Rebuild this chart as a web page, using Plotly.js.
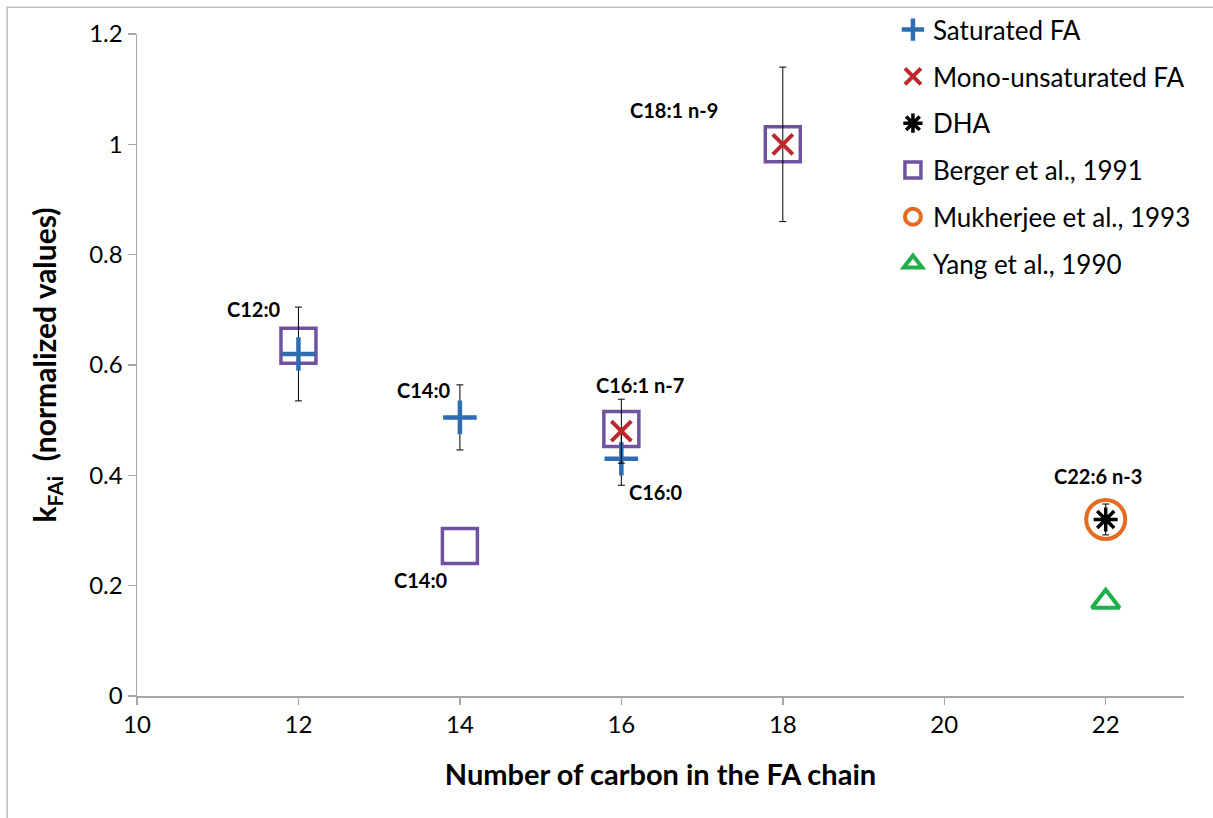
<!DOCTYPE html>
<html>
<head>
<meta charset="utf-8">
<script src="https://cdn.plot.ly/plotly-3.0.1.min.js"></script>
<style>html,body{margin:0;padding:0;background:#fff;}#chart{width:1213px;height:818px;}</style>
</head>
<body>
<div id="chart"></div>
<script>
// ---- data ----
const satX = [12, 14, 16];
const satY = [0.62, 0.505, 0.43];
const satErr = [0.085, 0.059, 0.048];
const satLabels = ["C12:0", "C14:0", "C16:0"];

const monoX = [16, 18];
const monoY = [0.48, 1.0];
const monoErr = [0.058, 0.14];
const monoLabels = ["C16:1 n-7", "C18:1 n-9"];

const dhaX = [22];
const dhaY = [0.32];
const dhaErr = [0.028];
const dhaLabels = ["C22:6 n-3"];

const bergerX = [12, 14, 16, 18];
const bergerY = [0.635, 0.272, 0.484, 1.0];

const mukX = [22];
const mukY = [0.32];

const yangX = [22];
const yangY = [0.171];

const xTicks = [10, 12, 14, 16, 18, 20, 22];
const yTicks = [0, 0.2, 0.4, 0.6, 0.8, 1, 1.2];
const yTickText = ["0", "0.2", "0.4", "0.6", "0.8", "1", "1.2"];

const FONT = "Lato, 'Open Sans', sans-serif";
const errStyle = {type: 'data', visible: true, color: '#000', thickness: 1, width: 3.5};

const traces = [
  {x: bergerX, y: bergerY, mode: 'markers', name: 'Berger et al., 1991', legendrank: 4, legendgroup: 'd',
   marker: {symbol: 'square-open', size: 35, color: '#6f53a0', line: {width: 3.5, color: '#6f53a0'}}},
  {x: mukX, y: mukY, mode: 'markers', name: 'Mukherjee et al., 1993', legendrank: 5, legendgroup: 'e',
   marker: {symbol: 'circle-open', size: 39, color: '#e46c22', line: {width: 4, color: '#e46c22'}}},
  {x: yangX, y: yangY, mode: 'markers', name: 'Yang et al., 1990', legendrank: 6, legendgroup: 'f',
   marker: {symbol: 'triangle-up-open', size: 24, color: '#1faf4b', line: {width: 4, color: '#1faf4b'}}},
  {x: satX, y: satY, mode: 'markers', name: 'Saturated FA', legendrank: 1, legendgroup: 'a',
   error_y: Object.assign({array: satErr}, errStyle),
   marker: {symbol: 'cross-thin', size: 24, color: '#2e6db2', line: {width: 4.5, color: '#2e6db2'}}},
  {x: monoX, y: monoY, mode: 'markers', name: 'Mono-unsaturated FA', legendrank: 2, legendgroup: 'b',
   error_y: Object.assign({array: monoErr}, errStyle),
   marker: {symbol: 'x-thin', size: 20, color: '#c0272d', line: {width: 4, color: '#c0272d'}}},
  {x: dhaX, y: dhaY, mode: 'markers', name: 'DHA', legendrank: 3, legendgroup: 'c',
   error_y: Object.assign({array: dhaErr}, errStyle),
   marker: {symbol: 'asterisk', size: 20, color: '#000', line: {width: 3.5, color: '#000'}}}
];

// labels anchored on data points (pixel offsets only)
function lab(x, y, text, dx, dy) {
  return {x: x, y: y, xref: 'x', yref: 'y', text: '<b>' + text + '</b>', showarrow: false,
          xshift: dx, yshift: dy, font: {family: FONT, size: 20, color: '#000'}};
}
const annotations = [
  lab(satX[0], satY[0], satLabels[0], -44, 45),
  lab(satX[1], satY[1], satLabels[1], -36, 27),
  lab(satX[2], satY[2], satLabels[2], 35, -33),
  lab(monoX[0], monoY[0], monoLabels[0], 19, 46),
  lab(monoX[1], monoY[1], monoLabels[1], -109, 34),
  lab(dhaX[0], dhaY[0], dhaLabels[0], -8, 43),
  lab(bergerX[1], bergerY[1], satLabels[1], -39, -34)
];

const layout = {
  width: 1213, height: 818,
  margin: {l: 137, r: 29, t: 34, b: 122, autoexpand: false},
  paper_bgcolor: '#fff', plot_bgcolor: '#fff',
  font: {family: FONT, color: '#000'},
  showlegend: true,
  legend: {x: 0.722, y: 1.042, xanchor: 'left', yanchor: 'top', tracegroupgap: 10,
           font: {family: FONT, size: 26, color: '#000'}, bgcolor: 'rgba(0,0,0,0)', itemwidth: 30},
  xaxis: {range: [10, 22.97], tickvals: xTicks, ticktext: xTicks.map(String),
          showgrid: false, zeroline: false, showline: true, linecolor: '#a6a6a6', linewidth: 1.5,
          ticks: 'outside', ticklen: 7, tickcolor: '#a6a6a6', tickwidth: 1.5,
          tickfont: {family: FONT, size: 24, color: '#000'},
          title: {text: '<b>Number of carbon in the FA chain</b>', font: {family: FONT, size: 29, color: '#000'}, standoff: 27}},
  yaxis: {range: [0, 1.2], tickvals: yTicks, ticktext: yTickText,
          showgrid: false, zeroline: false, showline: true, linecolor: '#a6a6a6', linewidth: 1.5,
          ticks: 'outside', ticklen: 8, tickcolor: '#a6a6a6', tickwidth: 1.5,
          tickfont: {family: FONT, size: 24, color: '#000'},
          title: {text: '<b>k<sub>FAi</sub>  (normalized values)</b>', font: {family: FONT, size: 30, color: '#000'}, standoff: 23}},
  annotations: annotations,
  shapes: [{type: 'rect', xref: 'paper', yref: 'paper', x0: -0.124, x1: 1.1, y0: -0.3, y1: 1.0405,
            line: {color: '#bfbfbf', width: 1.5}, fillcolor: 'rgba(0,0,0,0)', layer: 'below'}]
};

Plotly.newPlot('chart', traces, layout, {displayModeBar: false, staticPlot: true});
</script>
</body>
</html>
